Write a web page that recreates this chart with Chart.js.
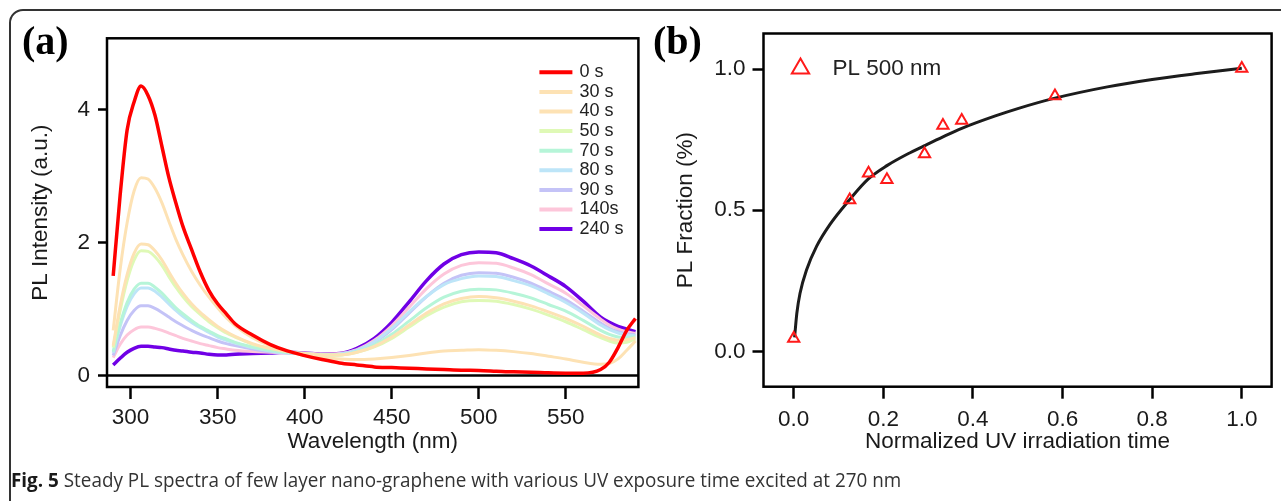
<!DOCTYPE html>
<html>
<head>
<meta charset="utf-8">
<title>Steady PL spectra</title>
<script src="https://cdn.jsdelivr.net/npm/chart.js@4.4.1/dist/chart.umd.min.js"></script>
<style>
  html, body { margin: 0; padding: 0; background: #fff; overflow: hidden; }
  body { width: 1281px; height: 501px; position: relative; }
  #frame {
    position: absolute; left: 9px; top: 9px; width: 1320px; height: 620px;
    border: 2px solid #333; border-radius: 14px; box-sizing: border-box;
  }
  #wrapA { position: absolute; left: 0; top: 0; width: 650px; height: 470px; }
  #wrapB { position: absolute; left: 640px; top: 0; width: 641px; height: 470px; }
  #caption {
    position: absolute; left: 11px; top: 470px; white-space: nowrap;
    font: 20px "Open Sans", "Noto Sans", sans-serif; line-height: 1; color: #333;
    transform-origin: left top;
  }
  #caption b { color: #1a1a1a; font-weight: 700; }
</style>
</head>
<body>
<div id="frame"></div>
<div id="wrapA"><canvas id="chartA" width="650" height="470"></canvas></div>
<div id="wrapB"><canvas id="chartB" width="641" height="470"></canvas></div>
<div id="caption"><b>Fig. 5</b> Steady PL spectra of few layer nano-graphene with various UV exposure time excited at 270 nm</div>

<script>
// (a) PL spectra, one curve per UV exposure time
const wavelength = [290, 294, 298, 302, 306, 310, 314, 318, 322, 326, 330, 335, 340, 345, 350, 355, 360, 370, 380, 390,
                    400, 410, 420, 430, 440, 450, 460, 470, 480, 490, 500, 510, 520, 530, 540, 550, 560, 570, 575, 580, 585, 590];

const pl0s   = [1.50, 2.72, 3.70, 4.12, 4.36, 4.22, 3.92, 3.45, 2.98, 2.60, 2.25, 1.90, 1.56, 1.28, 1.08, 0.93, 0.78, 0.61, 0.47, 0.37,
                0.30, 0.24, 0.19, 0.16, 0.13, 0.12, 0.11, 0.10, 0.09, 0.08, 0.075, 0.065, 0.055, 0.05, 0.04, 0.035, 0.035, 0.09, 0.20, 0.42, 0.68, 0.86];
const pl30s  = [0.68, 1.60, 2.30, 2.78, 2.98, 2.96, 2.82, 2.60, 2.32, 2.05, 1.82, 1.57, 1.36, 1.18, 1.02, 0.87, 0.75, 0.57, 0.45, 0.37,
                0.30, 0.27, 0.25, 0.24, 0.25, 0.27, 0.30, 0.34, 0.37, 0.38, 0.39, 0.38, 0.36, 0.33, 0.29, 0.25, 0.20, 0.17, 0.18, 0.25, 0.38, 0.52];
const pl40s  = [0.45, 1.05, 1.52, 1.84, 1.98, 1.97, 1.88, 1.74, 1.56, 1.39, 1.24, 1.08, 0.95, 0.84, 0.74, 0.66, 0.59, 0.48, 0.41, 0.36,
                0.33, 0.31, 0.31, 0.35, 0.44, 0.58, 0.76, 0.94, 1.08, 1.16, 1.19, 1.17, 1.12, 1.05, 0.96, 0.86, 0.74, 0.61, 0.56, 0.53, 0.54, 0.57];
const pl50s  = [0.42, 0.98, 1.43, 1.74, 1.88, 1.87, 1.79, 1.66, 1.49, 1.33, 1.19, 1.04, 0.92, 0.81, 0.72, 0.64, 0.58, 0.47, 0.41, 0.36,
                0.33, 0.31, 0.31, 0.35, 0.43, 0.56, 0.73, 0.90, 1.03, 1.11, 1.13, 1.12, 1.07, 1.00, 0.91, 0.81, 0.69, 0.57, 0.52, 0.49, 0.50, 0.55];
const pl70s  = [0.36, 0.78, 1.10, 1.30, 1.39, 1.39, 1.33, 1.24, 1.13, 1.02, 0.93, 0.83, 0.74, 0.67, 0.60, 0.55, 0.50, 0.43, 0.38, 0.35,
                0.33, 0.31, 0.31, 0.36, 0.46, 0.62, 0.82, 1.02, 1.18, 1.27, 1.30, 1.29, 1.24, 1.17, 1.07, 0.97, 0.83, 0.68, 0.62, 0.58, 0.57, 0.58];
const pl80s  = [0.34, 0.74, 1.04, 1.23, 1.32, 1.32, 1.27, 1.18, 1.08, 0.98, 0.89, 0.80, 0.72, 0.65, 0.58, 0.53, 0.49, 0.42, 0.37, 0.34,
                0.33, 0.31, 0.32, 0.38, 0.51, 0.71, 0.96, 1.19, 1.37, 1.46, 1.50, 1.49, 1.43, 1.35, 1.23, 1.10, 0.94, 0.76, 0.69, 0.64, 0.61, 0.60];
const pl90s  = [0.30, 0.60, 0.83, 0.98, 1.05, 1.05, 1.01, 0.95, 0.88, 0.81, 0.75, 0.68, 0.62, 0.57, 0.52, 0.48, 0.45, 0.40, 0.36, 0.34,
                0.33, 0.31, 0.32, 0.38, 0.50, 0.69, 0.94, 1.19, 1.39, 1.51, 1.55, 1.54, 1.48, 1.39, 1.27, 1.14, 0.97, 0.79, 0.71, 0.66, 0.63, 0.61];
const pl140s = [0.27, 0.47, 0.61, 0.69, 0.73, 0.73, 0.71, 0.68, 0.64, 0.60, 0.56, 0.52, 0.48, 0.45, 0.42, 0.40, 0.38, 0.36, 0.35, 0.34,
                0.34, 0.32, 0.33, 0.39, 0.53, 0.75, 1.03, 1.31, 1.53, 1.66, 1.70, 1.69, 1.62, 1.52, 1.38, 1.24, 1.05, 0.85, 0.76, 0.70, 0.66, 0.63];
const pl240s = [0.16, 0.26, 0.35, 0.41, 0.44, 0.44, 0.43, 0.42, 0.40, 0.38, 0.37, 0.35, 0.34, 0.32, 0.31, 0.31, 0.32, 0.33, 0.34, 0.35,
                0.34, 0.32, 0.33, 0.41, 0.56, 0.80, 1.11, 1.43, 1.68, 1.82, 1.86, 1.85, 1.76, 1.65, 1.50, 1.34, 1.12, 0.88, 0.80, 0.74, 0.70, 0.66];

const seriesLabels = ['0 s', '30 s', '40 s', '50 s', '70 s', '80 s', '90 s', '140s', '240 s'];
const seriesValues = [pl0s, pl30s, pl40s, pl50s, pl70s, pl80s, pl90s, pl140s, pl240s];
const seriesColors = ['#ff0000', '#fde2b4', '#fde2b4', '#dff9b6', '#b6f5d8', '#bde5f8', '#c4c3f7', '#fdc6da', '#7000e6'];
const seriesWidths = [3.5, 3, 3, 3, 3, 3, 3, 3, 3.5];

const wavelengthTicks = [300, 350, 400, 450, 500, 550];
const intensityTicks = [0, 2, 4];

// (b) PL fraction at 500 nm against normalized irradiation time
const normTime   = [0, 0.125, 0.167, 0.208, 0.292, 0.333, 0.375, 0.583, 1.0];
const plFraction = [0.046, 0.536, 0.631, 0.608, 0.699, 0.800, 0.818, 0.905, 1.002];
const fitTime     = [0.002, 0.007, 0.014, 0.029, 0.051, 0.081, 0.124, 0.166, 0.208, 0.255, 0.291, 0.333, 0.375, 0.45, 0.5, 0.583, 0.7, 0.8, 0.9, 1.0];
const fitFraction = [0.05, 0.135, 0.205, 0.29, 0.372, 0.45, 0.536, 0.61, 0.658, 0.70, 0.728, 0.76, 0.79, 0.834, 0.86, 0.897, 0.937, 0.963, 0.984, 1.003];

const timeTicks = [0, 0.2, 0.4, 0.6, 0.8, 1.0];
const fractionTicks = [0, 0.5, 1.0];

const axisFont = { family: '"Liberation Sans", Arial, sans-serif', size: 22.5 };
const ink = '#1a1a1a';

// box round the plot area, optional y = 0 line, panel letter and legend
const panelDecor = {
  id: 'panelDecor',
  beforeDatasetsDraw(chart, args, opts) {
    if (!opts.zeroLine) return;
    const { ctx, chartArea: a } = chart;
    const y0 = chart.scales.y.getPixelForValue(0);
    ctx.save();
    ctx.strokeStyle = '#000';
    ctx.lineWidth = 2.5;
    ctx.beginPath();
    ctx.moveTo(a.left, y0);
    ctx.lineTo(a.right, y0);
    ctx.stroke();
    ctx.restore();
  },
  afterDraw(chart, args, opts) {
    const { ctx, chartArea: a } = chart;
    ctx.save();
    ctx.strokeStyle = '#000';
    ctx.lineWidth = 2.5;
    ctx.strokeRect(a.left, a.top, a.right - a.left, a.bottom - a.top);

    ctx.fillStyle = '#000';
    ctx.font = 'bold 40px "Liberation Serif", "Times New Roman", serif';
    ctx.textBaseline = 'alphabetic';
    ctx.fillText(opts.tag, opts.tagX, 54);

    if (opts.legend === 'lines') {
      ctx.font = '18px "Liberation Sans", Arial, sans-serif';
      ctx.textBaseline = 'middle';
      chart.data.datasets.forEach((ds, i) => {
        const y = a.top + 34 + i * 19.6;
        ctx.strokeStyle = ds.borderColor;
        ctx.lineWidth = 4;
        ctx.beginPath();
        ctx.moveTo(a.right - 99, y);
        ctx.lineTo(a.right - 66, y);
        ctx.stroke();
        ctx.fillStyle = '#222';
        ctx.fillText(ds.label, a.right - 59, y);
      });
    } else if (opts.legend === 'marker') {
      const ds = chart.data.datasets[0];
      const cx = a.left + 37, cy = a.top + 35, r = 10;
      ctx.strokeStyle = ds.borderColor;
      ctx.lineWidth = 2;
      ctx.beginPath();
      ctx.moveTo(cx, cy - r);
      ctx.lineTo(cx + r * 0.866, cy + r * 0.5);
      ctx.lineTo(cx - r * 0.866, cy + r * 0.5);
      ctx.closePath();
      ctx.stroke();
      ctx.fillStyle = '#222';
      ctx.font = '22.5px "Liberation Sans", Arial, sans-serif';
      ctx.textBaseline = 'middle';
      ctx.fillText(ds.label, a.left + 69, cy);
    }
    ctx.restore();
  }
};

function tickGrid(len) {
  return { drawOnChartArea: false, drawTicks: true, tickLength: len, tickWidth: 2.5, tickColor: '#000', color: '#000' };
}

new Chart(document.getElementById('chartA'), {
  type: 'line',
  data: {
    datasets: seriesValues.map((vals, i) => ({
      label: seriesLabels[i],
      data: wavelength.map((w, j) => ({ x: w, y: vals[j] })),
      borderColor: seriesColors[i],
      borderWidth: seriesWidths[i],
      pointRadius: 0,
      cubicInterpolationMode: 'monotone',
      fill: false
    }))
  },
  options: {
    responsive: false,
    animation: false,
    devicePixelRatio: 1,
    layout: { padding: { top: 38.3, right: 11.6, left: 0, bottom: 0 } },
    plugins: {
      legend: { display: false },
      tooltip: { enabled: false },
      panelDecor: { tag: '(a)', tagX: 22, zeroLine: true, legend: 'lines' }
    },
    scales: {
      x: {
        type: 'linear', min: 286.44, max: 591.7,
        afterBuildTicks: s => { s.ticks = wavelengthTicks.map(v => ({ value: v })); },
        afterFit: s => { s.height = 83; },
        grid: tickGrid(12),
        border: { display: false },
        ticks: { font: axisFont, color: ink, padding: 5.5, maxRotation: 0 },
        title: { display: true, text: 'Wavelength (nm)', font: axisFont, color: ink, padding: { top: 0, bottom: 14.5 } }
      },
      y: {
        min: -0.173, max: 5.08,
        afterBuildTicks: s => { s.ticks = intensityTicks.map(v => ({ value: v })); },
        afterFit: s => { s.width = 107; },
        grid: tickGrid(9),
        border: { display: false },
        ticks: { font: axisFont, color: ink, padding: 8 },
        title: { display: true, text: 'PL Intensity (a.u.)', font: axisFont, color: ink, padding: { top: 27.5, bottom: 0 } }
      }
    }
  },
  plugins: [panelDecor]
});

new Chart(document.getElementById('chartB'), {
  type: 'scatter',
  data: {
    datasets: [
      {
        label: 'PL 500 nm',
        data: normTime.map((t, i) => ({ x: t, y: plFraction[i] })),
        pointStyle: 'triangle',
        pointRadius: 6.5,
        pointBorderWidth: 2,
        borderColor: '#ff1a1a',
        backgroundColor: 'rgba(0,0,0,0)'
      },
      {
        type: 'line',
        label: 'fit',
        data: fitTime.map((t, i) => ({ x: t, y: fitFraction[i] })),
        borderColor: '#1c1c1c',
        borderWidth: 3,
        pointRadius: 0,
        cubicInterpolationMode: 'monotone',
        fill: false
      }
    ]
  },
  options: {
    responsive: false,
    animation: false,
    devicePixelRatio: 1,
    layout: { padding: { top: 33.5, right: 9.4, left: 0, bottom: 0 } },
    plugins: {
      legend: { display: false },
      tooltip: { enabled: false },
      panelDecor: { tag: '(b)', tagX: 13, zeroLine: false, legend: 'marker' }
    },
    scales: {
      x: {
        type: 'linear', min: -0.0674, max: 1.0665,
        afterBuildTicks: s => { s.ticks = timeTicks.map(v => ({ value: v })); },
        afterFit: s => { s.height = 83.3; },
        grid: tickGrid(12),
        border: { display: false },
        ticks: { font: axisFont, color: ink, padding: 7.6, maxRotation: 0, callback: v => v.toFixed(1) },
        title: { display: true, text: 'Normalized UV irradiation time', font: axisFont, color: ink, padding: { top: 0, bottom: 14.5 } }
      },
      y: {
        min: -0.125, max: 1.126,
        afterBuildTicks: s => { s.ticks = fractionTicks.map(v => ({ value: v })); },
        afterFit: s => { s.width = 123.5; },
        grid: tickGrid(11),
        border: { display: false },
        ticks: { font: axisFont, color: ink, padding: 7, callback: v => v.toFixed(1) },
        title: { display: true, text: 'PL Fraction (%)', font: axisFont, color: ink, padding: { top: 32.3, bottom: 0 } }
      }
    }
  },
  plugins: [panelDecor]
});

// squeeze the caption to the width it takes in print
const caption = document.getElementById('caption');
caption.style.transform = 'scaleX(' + (890 / caption.scrollWidth) + ')';
</script>
</body>
</html>
